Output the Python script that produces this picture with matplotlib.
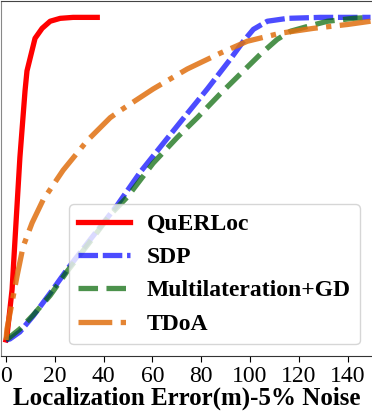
import matplotlib
matplotlib.use("Agg")
import matplotlib.pyplot as plt

querloc_x = [0, 0.4, 2.5, 4.1, 5.7, 7.8, 8.6, 10.3, 11.9, 14.8, 18.1, 22.2, 27.5, 37.4]
querloc_y = [0, 0.012, 0.157, 0.363, 0.566, 0.772, 0.834, 0.886, 0.935, 0.966, 0.988, 0.997, 1.0, 1.0]

sdp_x = [0, 1.6, 5.7, 11.1, 18.1, 25.0, 34.5, 45.6, 55.0, 64.4, 74.3, 82.5, 92.0, 97.3, 101.4,
         107.1, 115.4, 128.9, 149.4]
sdp_y = [0, 0.003, 0.025, 0.074, 0.145, 0.218, 0.311, 0.418, 0.52, 0.609, 0.702, 0.778, 0.871,
         0.926, 0.963, 0.988, 0.997, 1.0, 1.0]

mgd_x = [0, 1.6, 5.7, 11.1, 18.1, 25.0, 34.5, 42.7, 49.7, 60.3, 70.2, 78.4, 87.8, 96.1, 104.3,
         111.2, 116.6, 123.6, 131.8, 142.4, 149.4]
mgd_y = [0, 0.009, 0.034, 0.077, 0.138, 0.212, 0.305, 0.388, 0.443, 0.548, 0.628, 0.689, 0.763,
         0.825, 0.886, 0.932, 0.957, 0.972, 0.988, 0.997, 1.0]

tdoa_x = [0, 0.4, 2.5, 4.5, 7.0, 10.7, 15.2, 23.4, 33.3, 42.7, 46.8, 60.3, 74.3, 87.8, 98.9,
          112.5, 126.0, 140.0, 149.4]
tdoa_y = [0, 0.034, 0.117, 0.197, 0.289, 0.363, 0.434, 0.526, 0.618, 0.689, 0.711, 0.778, 0.84,
          0.889, 0.926, 0.951, 0.966, 0.978, 0.988]

xticks = [0, 20, 40, 60, 80, 100, 120, 140]

plt.rcParams['font.family'] = ['Liberation Serif', 'DejaVu Serif']

fig = plt.figure(figsize=(3.72, 4.15), dpi=100)
ax = fig.add_axes([0.003, 0.142, 0.997, 0.855])

ax.plot(querloc_x, querloc_y, color='red', lw=3.8, ls='-', label='QuERLoc',
        solid_joinstyle='round')
ax.plot(sdp_x, sdp_y, color='blue', alpha=0.7, lw=3.8, dashes=(3.7, 0.9), label='SDP')
ax.plot(mgd_x, mgd_y, color='darkgreen', alpha=0.7, lw=3.8, ls='--', label='Multilateration+GD')
ax.plot(tdoa_x, tdoa_y, color='#e07010', alpha=0.85, lw=3.8, ls='-.', label='TDoA')

ax.set_xlim(-2, 150)
ax.set_ylim(-0.05, 1.05)
ax.set_xticks(xticks)
ax.set_yticks([])
ax.tick_params(axis='x', labelsize=17, length=4, pad=3)
ax.set_xlabel('Localization Error(m)-5% Noise', fontsize=18, fontweight='bold', labelpad=0)
ax.spines['left'].set_color('#888888')
ax.spines['top'].set_color('#444444')
ax.spines['bottom'].set_color('#333333')
ax.spines['right'].set_visible(False)

leg = ax.legend(loc='lower right', prop={'weight': 'bold', 'size': 17},
                handlelength=2.2, handletextpad=0.7, borderaxespad=0.5, labelspacing=0.5)

fig.savefig('out.png', dpi=100)
